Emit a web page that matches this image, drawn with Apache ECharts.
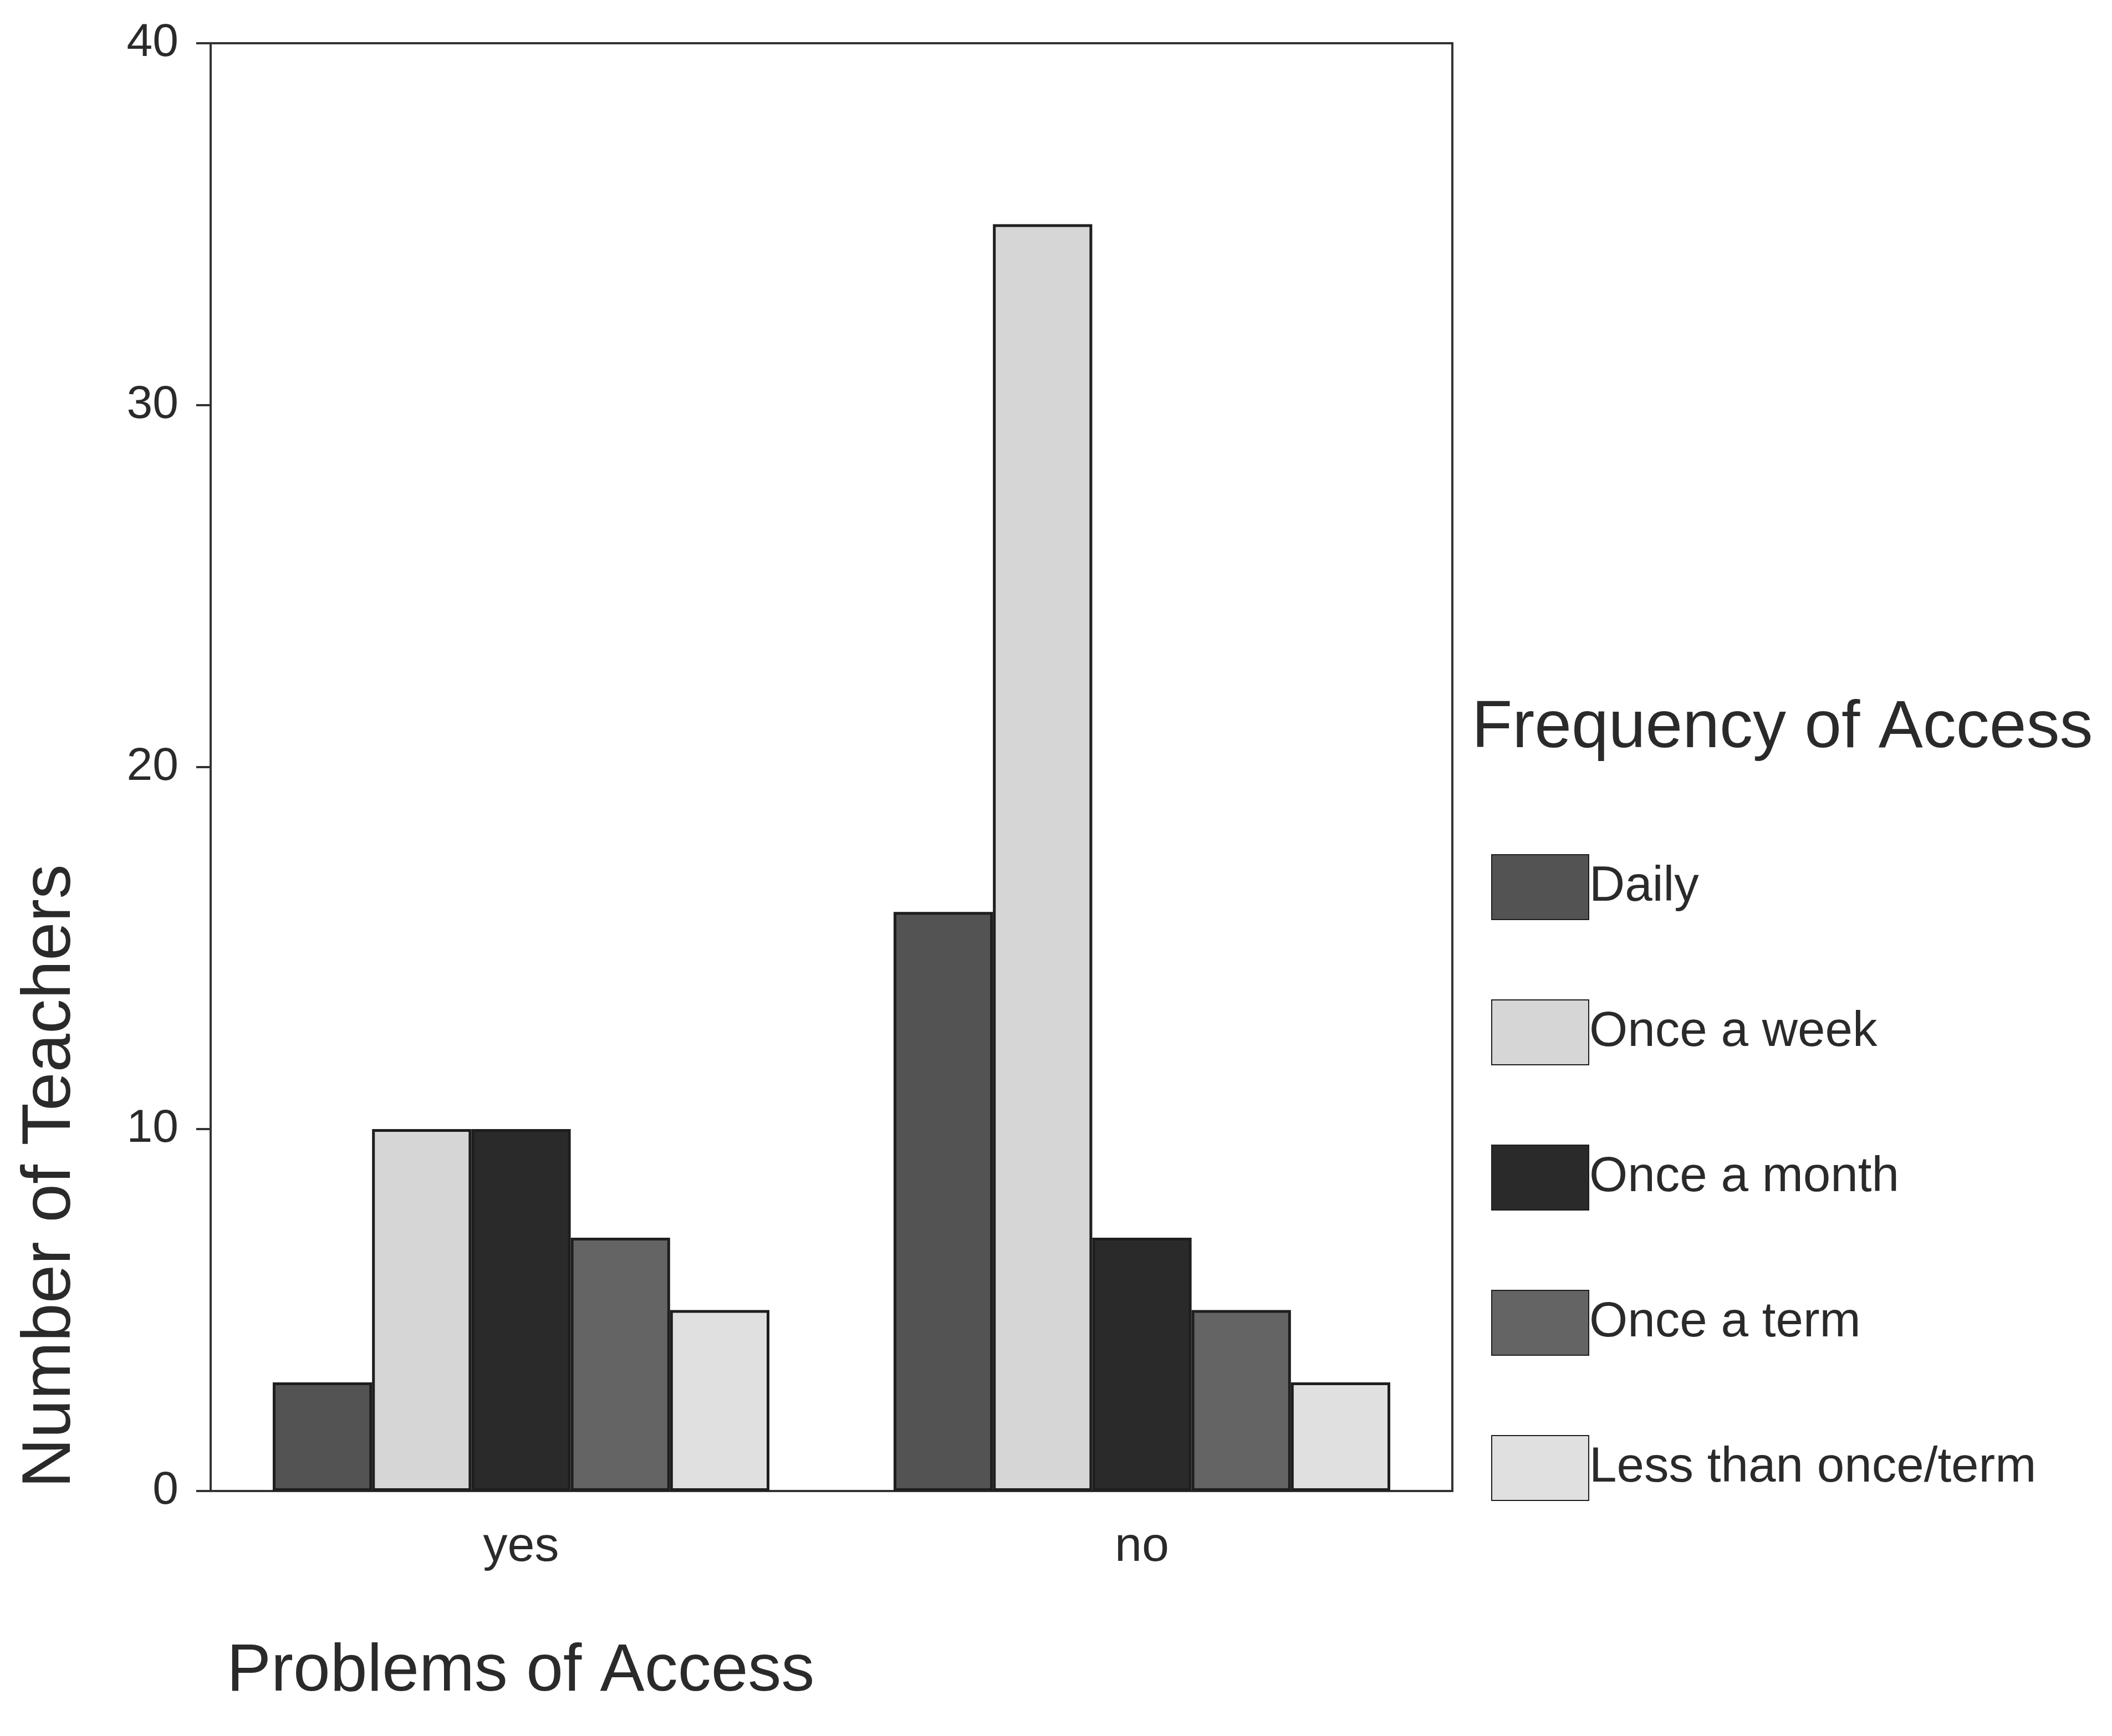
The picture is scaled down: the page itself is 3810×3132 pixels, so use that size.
<!DOCTYPE html>
<html>
<head>
<meta charset="utf-8">
<script src="https://cdn.jsdelivr.net/npm/echarts@6/dist/echarts.min.js"></script>
<style>html,body{margin:0;padding:0;background:#fff;}#c{width:3810px;height:3132px;}</style>
</head>
<body>
<div id="c"></div>
<script>
const categories = ['yes', 'no'];
const seriesNames = ['Daily', 'Once a week', 'Once a month', 'Once a term', 'Less than once/term'];
const daily = [3, 16];
const onceAWeek = [10, 35];
const onceAMonth = [10, 7];
const onceATerm = [7, 5];
const lessThanOnceTerm = [5, 3];
const yTicks = [0, 10, 20, 30, 40];

const seriesValues = [daily, onceAWeek, onceAMonth, onceATerm, lessThanOnceTerm];
const colors = ['#535353', '#d6d6d6', '#2a2a2a', '#646464', '#e0e0e0'];
const font = 'Liberation Sans, Arial, sans-serif';

const chart = echarts.init(document.getElementById('c'), null, {renderer: 'canvas'});
chart.setOption({
  backgroundColor: '#ffffff',
  animation: false,
  title: [
    {text: 'Frequency of Access', left: 2650, top: 1250,
     textStyle: {fontFamily: font, fontSize: 120, fontWeight: 'normal', color: '#2a2a2a'}},
    {text: 'Problems of Access', left: 404, top: 2952,
     textStyle: {fontFamily: font, fontSize: 120, fontWeight: 'normal', color: '#2a2a2a'}}
  ],
  graphic: [
    {type: 'text', x: 92, y: 2122, rotation: Math.PI / 2,
     style: {text: 'Number of Teachers', fontFamily: font, fontSize: 125, fill: '#2a2a2a',
             textAlign: 'center', textVerticalAlign: 'middle'}}
  ],
  legend: {
    orient: 'vertical', left: 2685, top: 1536,
    itemWidth: 175, itemHeight: 117, itemGap: 143,
    icon: 'rect',
    data: seriesNames,
    textStyle: {fontFamily: font, fontSize: 89, color: '#2a2a2a', padding: [0, 0, 0, -4]}
  },
  grid: {left: 380, right: 1190, top: 78, bottom: 442, show: true,
         borderColor: '#333', borderWidth: 4, backgroundColor: 'transparent'},
  xAxis: {
    type: 'category', data: categories,
    axisLine: {lineStyle: {color: '#333', width: 4}},
    axisTick: {alignWithLabel: true, length: 36, lineStyle: {color: '#333', width: 4}},
    axisLabel: {fontFamily: font, fontSize: 88, color: '#2a2a2a', margin: 58}
  },
  yAxis: {
    type: 'value', min: 0, max: 40, interval: 10,
    splitLine: {show: false},
    axisLine: {show: true, lineStyle: {color: '#333', width: 4}},
    axisTick: {show: true, length: 26, lineStyle: {color: '#333', width: 4}},
    axisLabel: {fontFamily: font, fontSize: 84, color: '#2a2a2a', margin: 58,
                formatter: v => yTicks.includes(v) ? String(v) : ''}
  },
  series: seriesNames.map((name, i) => ({
    name: name, type: 'bar', data: seriesValues[i],
    barGap: '0%', barCategoryGap: '20%',
    itemStyle: {color: colors[i], borderColor: '#1e1e1e', borderWidth: 5}
  }))
});
</script>
</body>
</html>
